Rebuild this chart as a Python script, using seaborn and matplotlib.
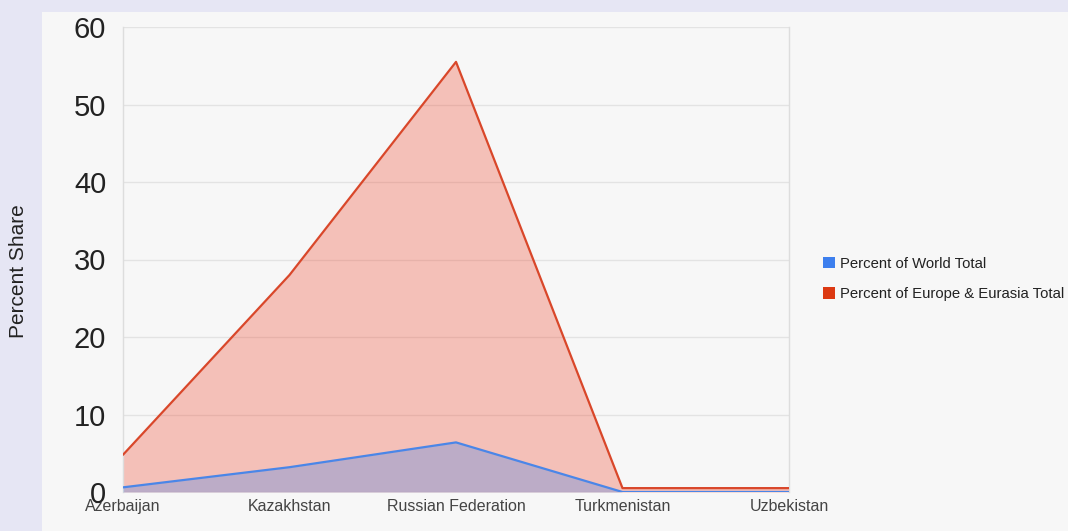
import numpy as np
import pandas as pd
import matplotlib.pyplot as plt
import seaborn as sns
from matplotlib.patches import Rectangle, Patch

# data
countries = ["Azerbaijan", "Kazakhstan", "Russian Federation", "Turkmenistan", "Uzbekistan"]
world_total = [0.6, 3.2, 6.4, 0.0, 0.0]
europe_total = [4.8, 28.0, 55.5, 0.5, 0.5]
yticks = [0, 10, 20, 30, 40, 50, 60]

blue = "#4a86e8"
red = "#d9472a"

sns.set_style("whitegrid")
plt.rcParams["font.family"] = ["Liberation Sans", "DejaVu Sans"]

fig = plt.figure(figsize=(10.68, 5.31), dpi=100)
fig.patch.set_facecolor("#e6e6f4")
# light inner panel, behind the axes
fig.patches.append(Rectangle((42 / 1068, 0), 1, 1 - 12 / 531, transform=fig.transFigure,
                             facecolor="#f7f7f7", edgecolor="none", zorder=-5))

ax = fig.add_axes([123 / 1068, 1 - 492 / 531, 666 / 1068, 465 / 531])
ax.set_facecolor("#f7f7f7")

df = pd.DataFrame({"country": countries, "world": world_total, "europe": europe_total})
x = np.arange(len(countries))

ax.fill_between(x, 0, df["europe"], color="#f03c20", alpha=0.29, linewidth=0, zorder=2)
ax.fill_between(x, 0, df["world"], color=blue, alpha=0.33, linewidth=0, zorder=3)
sns.lineplot(x=x, y=df["europe"], color=red, linewidth=1.6, ax=ax, zorder=4)
sns.lineplot(x=x, y=df["world"], color=blue, linewidth=1.6, ax=ax, zorder=5)

ax.set_xlim(0, len(countries) - 1)
ax.set_ylim(0, 60)
ax.set_xticks(x)
ax.set_xticklabels(countries, fontsize=11.5, color="#444444")
ax.set_yticks(yticks)
ax.set_yticklabels([str(t) for t in yticks], fontsize=21, color="#222222")
ax.tick_params(axis="x", length=0, pad=5)
ax.tick_params(axis="y", length=0, pad=12)
ax.grid(axis="x", visible=False)
ax.grid(axis="y", color="#e3e3e3", linewidth=1)
for s in ["top", "bottom"]:
    ax.spines[s].set_visible(False)
for s in ["left", "right"]:
    ax.spines[s].set_color("#dddddd")
    ax.spines[s].set_linewidth(1)
ax.set_xlabel("")
ax.set_ylabel("")

fig.text(19 / 1068, 1 - 271 / 531, "Percent Share", rotation=90, ha="center", va="center",
         fontsize=15, color="#222222")

handles = [Patch(facecolor="#3d7fee", edgecolor="none"), Patch(facecolor="#dc3912", edgecolor="none")]
fig.legend(handles, ["Percent of World Total", "Percent of Europe & Eurasia Total"],
           loc="center left", bbox_to_anchor=(810 / 1068, 1 - 279 / 531), frameon=False,
           fontsize=10.7, handlelength=0.8, handleheight=0.8, handletextpad=0.3,
           labelspacing=1.1, labelcolor="#222222")

fig.savefig("out.png", dpi=100, facecolor=fig.get_facecolor())
